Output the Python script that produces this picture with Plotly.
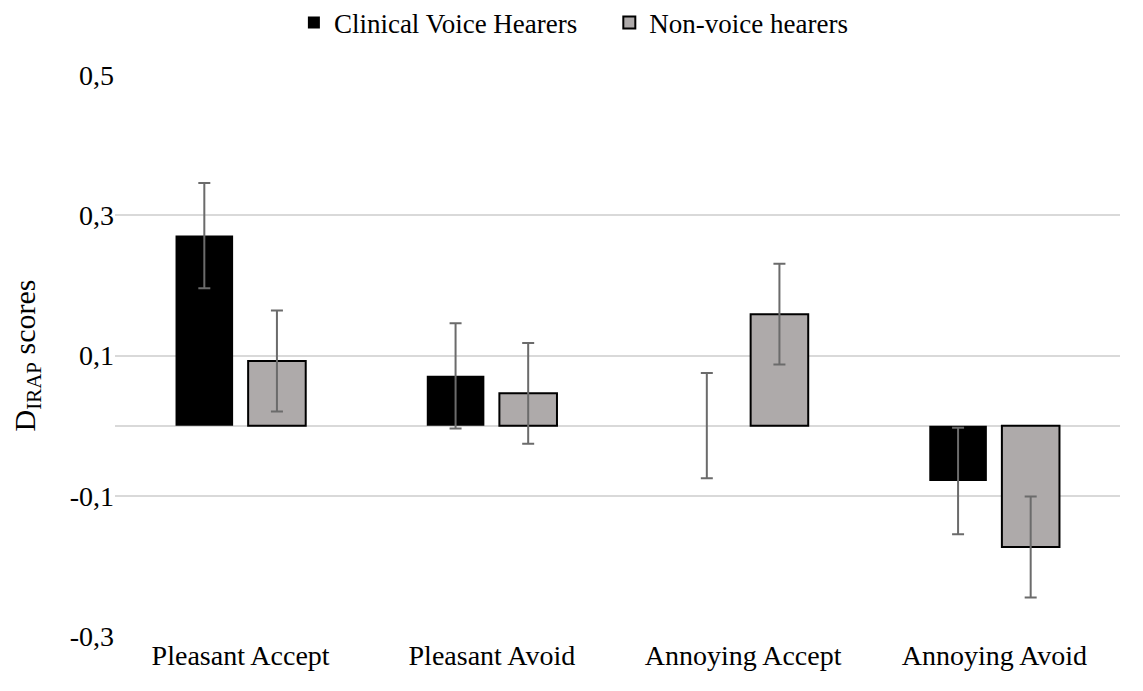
import plotly.graph_objects as go

categories = ["Pleasant Accept", "Pleasant Avoid", "Annoying Accept", "Annoying Avoid"]
cvh_values = [0.271, 0.071, 0.0, -0.079]
cvh_errors = [0.075, 0.075, 0.075, 0.076]
nvh_values = [0.092, 0.046, 0.159, -0.173]
nvh_errors = [0.072, 0.072, 0.072, 0.072]
y_ticks = [-0.3, -0.1, 0.1, 0.3, 0.5]
y_tick_labels = ["-0,3", "-0,1", "0,1", "0,3", "0,5"]
series_names = ["Clinical Voice Hearers", "Non-voice hearers"]

font = "Liberation Serif, Times New Roman, serif"
err_style = dict(type="data", visible=True, color="#6b6b6b", thickness=2, width=6)
pad = "\u00a0" * 4

fig = go.Figure()
fig.add_trace(go.Bar(
    name=series_names[0] + pad, x=categories, y=cvh_values,
    marker=dict(color="#000000", line=dict(color="#000000", width=0)),
    error_y=dict(array=cvh_errors, **err_style),
))
fig.add_trace(go.Bar(
    name=series_names[1], x=categories, y=nvh_values,
    marker=dict(color="#AEAAAA", line=dict(color="#000000", width=2)),
    error_y=dict(array=nvh_errors, **err_style),
))

fig.update_layout(
    width=1143, height=691,
    paper_bgcolor="white", plot_bgcolor="white",
    font=dict(family=font, size=28, color="#000000"),
    barmode="group", bargap=0.422, bargroupgap=0.207,
    margin=dict(l=107, r=31, t=67, b=63, autoexpand=False),
    legend=dict(orientation="h", x=0.178, xanchor="left", y=1.093, yanchor="middle",
                font=dict(family=font, size=27), traceorder="normal",
                itemwidth=30),
    showlegend=True,
)
fig.update_xaxes(showgrid=False, showline=False, ticks="", tickfont=dict(size=28))
fig.update_yaxes(range=[-0.3, 0.5], tickvals=y_ticks, ticktext=y_tick_labels,
                 showgrid=True, gridcolor="#D9D9D9", gridwidth=1.5,
                 zeroline=True, zerolinecolor="#D9D9D9", zerolinewidth=1.5,
                 showline=False, ticks="", ticklen=0,
                 tickfont=dict(size=28),
                 title=dict(text="D<sub>IRAP</sub> scores", font=dict(size=30), standoff=25))

fig.write_html("out.html")
